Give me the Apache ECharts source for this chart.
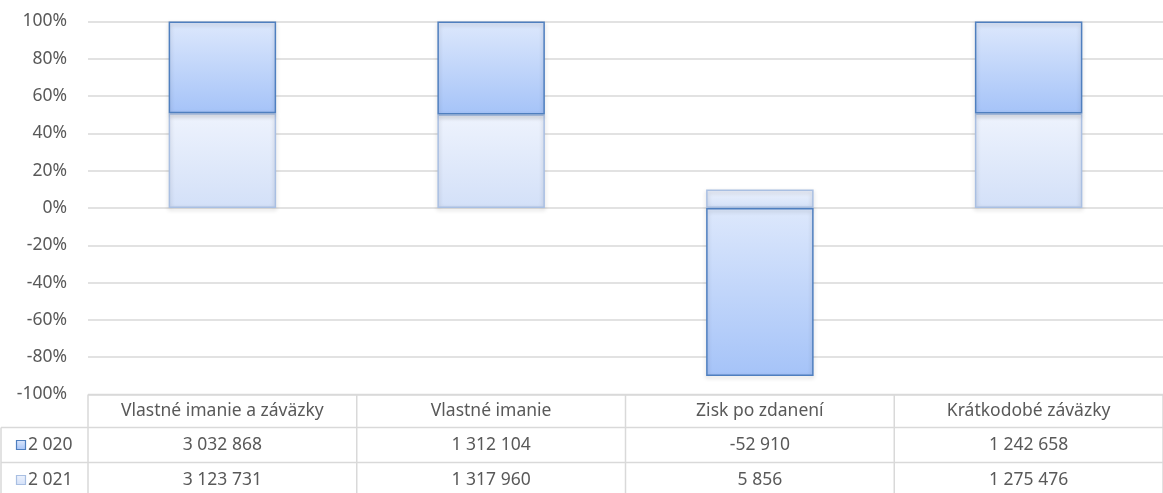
<!DOCTYPE html>
<html>
<head>
<meta charset="utf-8">
<script src="https://cdn.jsdelivr.net/npm/echarts@6/dist/echarts.min.js"></script>
<style>
html,body{margin:0;padding:0;background:#fff;}
#c{width:1163px;height:493px;}
</style>
</head>
<body>
<div id="c"></div>
<script>
// ---- data ----
var categories = ['Vlastné imanie a záväzky', 'Vlastné imanie', 'Zisk po zdanení', 'Krátkodobé záväzky'];
var years = [2020, 2021];
var values2020 = [3032868, 1312104, -52910, 1242658];
var values2021 = [3123731, 1317960, 5856, 1275476];
var yTicks = [-100, -80, -60, -40, -20, 0, 20, 40, 60, 80, 100];

function fmt(n) {
  var s = String(Math.abs(n)).replace(/\B(?=(\d{3})+(?!\d))/g, ' ');
  return (n < 0 ? '-' : '') + s;
}
// 100% stacked share (Excel uses sum of absolute values)
function share(a, b) {
  return a.map(function (v, i) { return v / (Math.abs(a[i]) + Math.abs(b[i])) * 100; });
}
var pct2020 = share(values2020, values2021);
var pct2021 = share(values2021, values2020);

var FONT = 'Noto Sans';
var TXT = '#595959';
var LINE = '#d9d9d9';

var chart = echarts.init(document.getElementById('c'), null, {renderer: 'canvas'});

function grad(top, bottom) {
  return new echarts.graphic.LinearGradient(0, 0, 0, 1, [
    {offset: 0, color: top}, {offset: 1, color: bottom}
  ]);
}

var option = {
  animation: false,
  backgroundColor: '#ffffff',
  grid: {left: 88, right: -9, top: 21.5, bottom: 98.5, containLabel: false},
  xAxis: {
    type: 'category',
    data: categories,
    axisLine: {show: false},
    axisTick: {show: false},
    axisLabel: {show: false},
    splitLine: {show: false}
  },
  yAxis: {
    type: 'value',
    min: yTicks[0],
    max: yTicks[yTicks.length - 1],
    interval: 20,
    axisLine: {show: false},
    axisTick: {show: false},
    axisLabel: {
      formatter: function (v) { return v + '%'; },
      color: TXT, fontFamily: FONT, fontSize: 17.5, margin: 21
    },
    splitLine: {lineStyle: {color: LINE, width: 1.5}}
  },
  series: [
    {
      name: fmt(years[1]),
      type: 'bar',
      stack: 'total',
      barWidth: '40%',
      data: pct2021,
      itemStyle: {
        color: grad('#eef3fd', '#d3e0f8'),
        borderColor: '#a9bfe2',
        borderWidth: 1.5,
        shadowColor: 'rgba(0,0,0,0.22)',
        shadowBlur: 4,
        shadowOffsetY: 2
      }
    },
    {
      name: fmt(years[0]),
      type: 'bar',
      stack: 'total',
      barWidth: '40%',
      data: pct2020,
      itemStyle: {
        color: grad('#dde8fc', '#a5c3f8'),
        borderColor: '#4f7fbf',
        borderWidth: 1.5,
        shadowColor: 'rgba(0,0,0,0.22)',
        shadowBlur: 4,
        shadowOffsetY: 2
      }
    }
  ]
};
chart.setOption(option);

// ---- data table below the plot ----
var W = 1163;
var xLeft = 88;
var yTop = chart.convertToPixel({yAxisIndex: 0}, yTicks[0]);
var rowH = [33, 35, 35];
var rowY = [yTop, yTop + rowH[0], yTop + rowH[0] + rowH[1]];
var centers = categories.map(function (c) { return chart.convertToPixel({xAxisIndex: 0}, c); });
var colW = centers.length > 1 ? centers[1] - centers[0] : 271;

var g = [];
function hline(x1, x2, y) {
  g.push({type: 'line', shape: {x1: x1, y1: y, x2: x2, y2: y}, style: {stroke: LINE, lineWidth: 1.5}, silent: true});
}
function vline(x, y1, y2) {
  g.push({type: 'line', shape: {x1: x, y1: y1, x2: x, y2: y2}, style: {stroke: LINE, lineWidth: 1.5}, silent: true});
}
function text(s, x, y, align) {
  g.push({type: 'text', x: x, y: y, style: {text: s, fill: TXT, font: '17.5px "' + FONT + '"', textAlign: align || 'center', textVerticalAlign: 'middle'}, silent: true});
}
hline(xLeft, W + 20, rowY[0]);
hline(1, W + 20, rowY[1]);
hline(1, W + 20, rowY[2]);
vline(1, rowY[1], 500);
for (var i = 0; i <= categories.length; i++) {
  vline(xLeft + i * colW, rowY[0], 500);
}
categories.forEach(function (c, i) { text(c, centers[i], rowY[0] + rowH[0] / 2); });
var rows = [[years[0], values2020, '#4f7fbf', grad('#dde8fc', '#a5c3f8')], [years[1], values2021, '#a9bfe2', grad('#eef3fd', '#d3e0f8')]];
rows.forEach(function (r, k) {
  var cy = rowY[k + 1] + rowH[k + 1] / 2;
  g.push({type: 'rect', shape: {x: 16.5, y: cy - 4.5, width: 9, height: 9}, style: {fill: r[3], stroke: r[2], lineWidth: 1.2}, silent: true});
  text(fmt(r[0]), 28, cy, 'left');
  r[1].forEach(function (v, i) { text(fmt(v), centers[i], cy); });
});
chart.setOption({graphic: g});
</script>
</body>
</html>
